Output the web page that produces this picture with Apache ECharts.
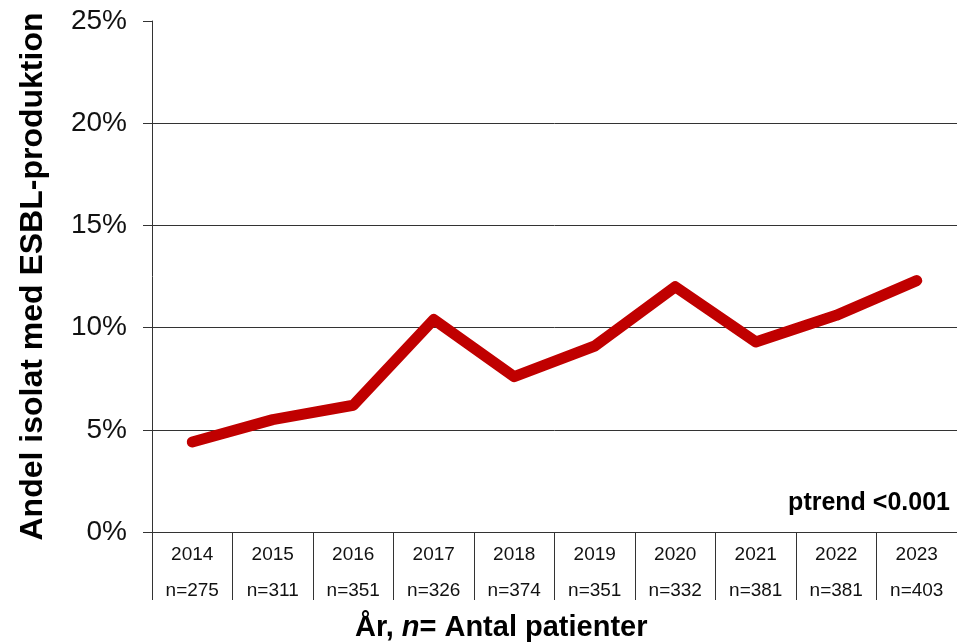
<!DOCTYPE html>
<html>
<head>
<meta charset="utf-8">
<script src="https://cdn.jsdelivr.net/npm/echarts@6/dist/echarts.min.js"></script>
<style>
  html, body { margin: 0; padding: 0; background: #fff; }
  #chart { width: 957px; height: 644px; }
</style>
</head>
<body>
<div id="chart"></div>
<script>
// år och antal patienter
const years = ['2014', '2015', '2016', '2017', '2018', '2019', '2020', '2021', '2022', '2023'];
const patients = [275, 311, 351, 326, 374, 351, 332, 381, 381, 403];
// andel isolat med ESBL (avläst)
const esblShare = [0.044, 0.055, 0.062, 0.104, 0.076, 0.091, 0.120, 0.093, 0.106, 0.123];
const yTicks = [0, 0.05, 0.10, 0.15, 0.20, 0.25];

const font = 'Liberation Sans, Arial, sans-serif';
const chart = echarts.init(document.getElementById('chart'));

const option = {
  animation: false,
  backgroundColor: '#fff',
  textStyle: { fontFamily: font },
  title: [
    {
      text: '{b|År, }{i|n}{b|= Antal patienter}',
      left: 350,
      top: 608,
      textStyle: {
        rich: {
          b: { fontFamily: font, fontSize: 29, fontWeight: 'bold', color: '#000' },
          i: { fontFamily: font, fontSize: 29, fontWeight: 'bold', fontStyle: 'italic', color: '#000' }
        }
      }
    },
    {
      text: 'ptrend <0.001',
      right: 2,
      top: 486,
      textStyle: { fontFamily: font, fontSize: 25, fontWeight: 'bold', color: '#000' }
    }
  ],
  grid: { left: 152, right: 0, top: 21, bottom: 112, containLabel: false },
  xAxis: {
    type: 'category',
    data: years,
    boundaryGap: true,
    axisLine: { lineStyle: { color: '#333', width: 1 } },
    axisTick: { show: true, interval: 0, length: 68, lineStyle: { color: '#333' } },
    axisLabel: {
      interval: 0,
      margin: 5,
      formatter: (v, i) => '{y|' + v + '}\n{n|n=' + patients[i] + '}',
      rich: {
        y: { fontFamily: font, fontSize: 19, lineHeight: 36, color: '#111' },
        n: { fontFamily: font, fontSize: 19, lineHeight: 36, color: '#111' }
      }
    }
  },
  yAxis: {
    type: 'value',
    min: yTicks[0],
    max: yTicks[yTicks.length - 1],
    interval: 0.05,
    name: 'Andel isolat med ESBL-produktion',
    nameLocation: 'middle',
    nameGap: 103,
    nameTextStyle: { fontFamily: font, fontSize: 32, fontWeight: 'bold', color: '#000' },
    axisLine: { show: true, lineStyle: { color: '#333', width: 1 } },
    axisTick: { show: true, length: 9, lineStyle: { color: '#333' } },
    axisLabel: {
      margin: 25,
      fontFamily: font,
      fontSize: 28,
      color: '#111',
      formatter: v => Math.round(v * 100) + '%'
    },
    splitLine: { show: true, showMaxLine: false, lineStyle: { color: '#333', width: 1 } }
  },
  series: [
    {
      name: 'ESBL',
      type: 'line',
      data: esblShare,
      symbol: 'none',
      smooth: false,
      lineStyle: { color: '#C00000', width: 11, cap: 'round', join: 'round' }
    }
  ]
};

chart.setOption(option);
</script>
</body>
</html>
